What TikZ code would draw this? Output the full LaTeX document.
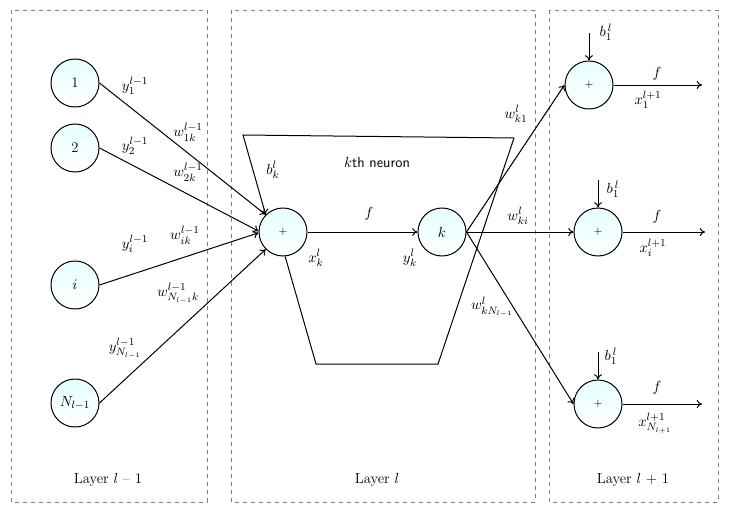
\documentclass[tikz,border=0pt]{standalone}
\usepackage{amsmath}
\usepackage{tikz}
\usetikzlibrary{arrows.meta}

\tikzset{
  neuron/.style={circle, draw, minimum size=36pt, inner sep=0pt,
    top color=cyan!10, bottom color=white},
  layerbox/.style={draw=gray, dashed, thin},
  link/.style={-{To[length=4pt,width=6pt]}},
  lbl/.style={inner sep=0.5pt}
}

\begin{document}
\begin{tikzpicture}[x=0.75pt, y=-0.75pt, line width=0.75pt,
    every node/.style={font=\fontsize{11}{13}\selectfont}]
    \useasboundingbox (0,0) rectangle (729,514);

    % layer frames
    \draw[layerbox] (11,10) rectangle (207,502);
    \draw[layerbox] (231,10) rectangle (535,502);
    \draw[layerbox] (549,10) rectangle (718,502);

    % layer l-1
    \node[neuron] (n1) at (75,83) {1};
    \node[neuron] (n2) at (75,148) {2};
    \node[neuron] (ni) at (75,285) {$i$};
    \node[neuron] (nN) at (75,403) {$N_{l-1}$};

    % layer l
    \node[neuron] (sum) at (283,232) {\footnotesize$+$};
    \node[neuron] (k) at (442,232) {$k$};

    % layer l+1
    \node[neuron] (o1) at (589,85) {\footnotesize$+$};
    \node[neuron] (oi) at (598,232) {\footnotesize$+$};
    \node[neuron] (oN) at (598,404) {\footnotesize$+$};

    % neuron outline
    \coordinate (TL) at (243,135);
    \coordinate (TR) at (514,138);
    \coordinate (BL) at (316,364);
    \coordinate (BR) at (438,364);
    \draw[link] (TR) -- (TL) -- (sum.135);
    \draw (sum.-85) -- (BL) -- (BR) -- (TR);

    % inputs
    \draw[link] (n1.east) -- (sum.135);
    \draw[link] (n2.east) -- (sum.178);
    \draw[link] (ni.east) -- (sum.182);
    \draw[link] (nN.east) -- (sum.225);
    \draw[link] (sum.east) -- (k.west);

    % outputs of k
    \draw[link] (k.east) -- (o1.west);
    \draw[link] (k.east) -- (oi.west);
    \draw[link] (k.east) -- (oN.west);

    % biases and outputs of layer l+1
    \coordinate (b1) at (589,33);
    \coordinate (bi) at (598,180);
    \coordinate (bN) at (598,352);
    \coordinate (e1) at (702,85);
    \coordinate (ei) at (705,232);
    \coordinate (eN) at (702,404);
    \draw[link] (b1) -- (o1.north);
    \draw[link] (bi) -- (oi.north);
    \draw[link] (bN) -- (oN.north);
    \draw[link] (o1.east) -- (e1);
    \draw[link] (oi.east) -- (ei);
    \draw[link] (oN.east) -- (eN);

    % labels
    \node[lbl] (ly1) at (135,86) {$y_1^{l-1}$};
    \node[lbl] (ly2) at (135,146) {$y_2^{l-1}$};
    \node[lbl] (lw1) at (188,132) {$w_{1k}^{l-1}$};
    \node[lbl] (lw2) at (188,172) {$w_{2k}^{l-1}$};
    \node[lbl] (lyi) at (135,244) {$y_i^{l-1}$};
    \node[lbl] (lwi) at (185,235) {$w_{ik}^{l-1}$};
    \node[lbl] (lwN) at (178,293) {$w_{N_{l-1}k}^{l-1}$};
    \node[lbl] (lyN) at (125,348) {$y_{N_{l-1}}^{l-1}$};

    \node[lbl] (lbk) at (273,170) {$b_k^l$};
    \node[lbl] (lkth) at (377,162) {$k$\textsf{th neuron}};
    \node[lbl] (lf) at (369,214) {$f$};
    \node[lbl] (lxk) at (316,258) {$x_k^l$};
    \node[lbl] (lyk) at (410,258) {$y_k^l$};

    \node[lbl] (lwk1) at (516,114) {$w_{k1}^l$};
    \node[lbl] (lwki) at (518,216) {$w_{ki}^l$};
    \node[lbl] (lwkN) at (492,307) {$w_{kN_{l-1}}^l$};

    \node[lbl] (lb1) at (606,32) {$b_1^{\,l}$};
    \node[lbl] (lbi) at (613,189) {$b_1^{\,l}$};
    \node[lbl] (lbN) at (611,356) {$b_1^{\,l}$};
    \node[lbl] (lf1) at (657,74) {$f$};
    \node[lbl] (lfi) at (657,217) {$f$};
    \node[lbl] (lfN) at (657,388) {$f$};
    \node[lbl] (lx1) at (648,100) {$x_1^{l+1}$};
    \node[lbl] (lxi) at (653,248) {$x_i^{l+1}$};
    \node[lbl] (lxN) at (655,423) {$x_{N_{l+1}}^{l+1}$};

    \node (L1) at (108,480) {Layer $l$ -- 1};
    \node (L2) at (377,480) {Layer $l$};
    \node (L3) at (633,480) {Layer $l$ + 1};
\end{tikzpicture}
\end{document}
